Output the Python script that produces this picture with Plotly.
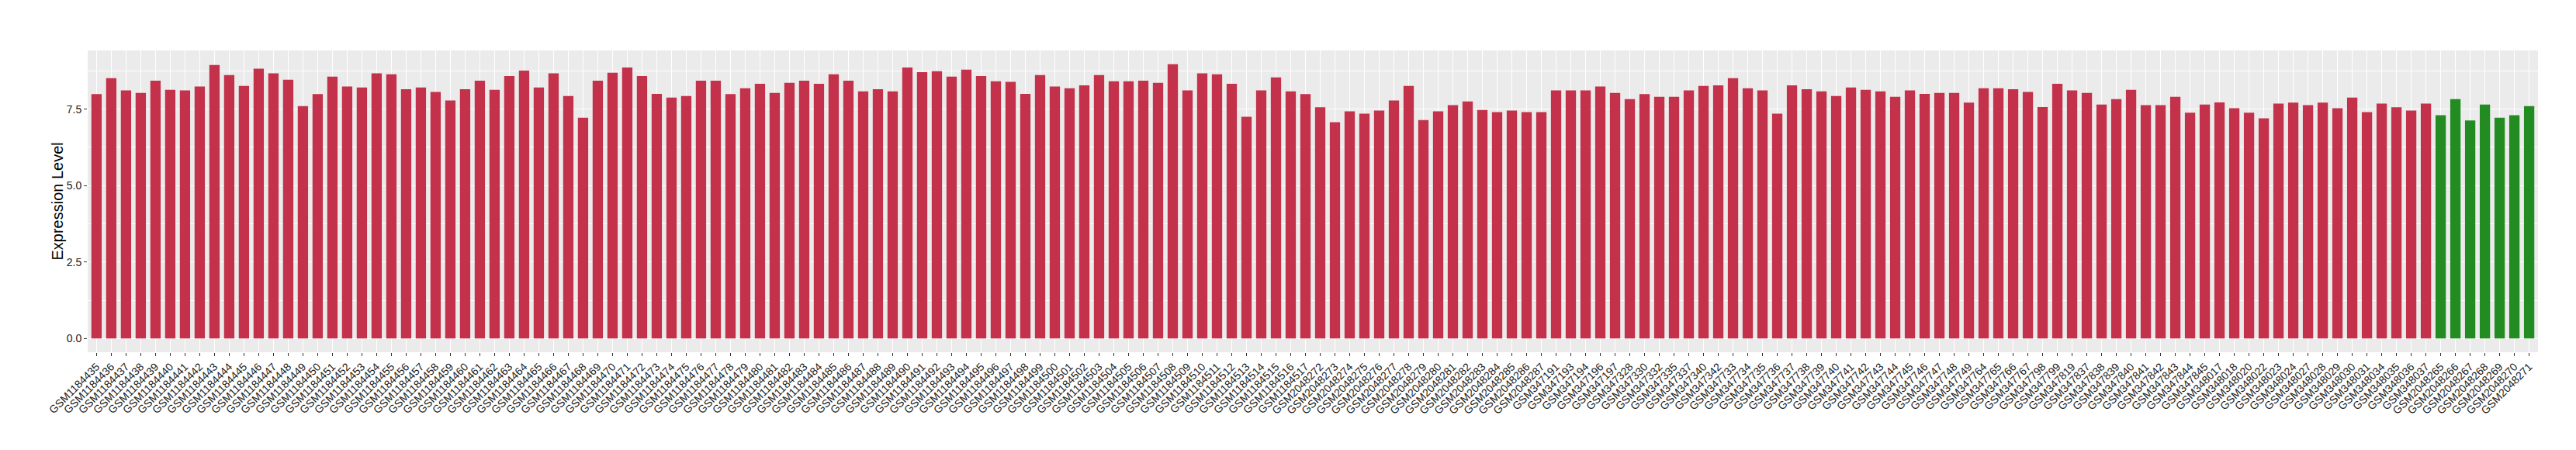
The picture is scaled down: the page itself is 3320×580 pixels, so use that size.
import plotly.graph_objects as go

# ---- data ----
samples_a = [
    "GSM1184435", "GSM1184436", "GSM1184437", "GSM1184438", "GSM1184439", "GSM1184440",
    "GSM1184441", "GSM1184442", "GSM1184443", "GSM1184444", "GSM1184445", "GSM1184446",
    "GSM1184447", "GSM1184448", "GSM1184449", "GSM1184450", "GSM1184451", "GSM1184452",
    "GSM1184453", "GSM1184454", "GSM1184455", "GSM1184456", "GSM1184457", "GSM1184458",
    "GSM1184459", "GSM1184460", "GSM1184461", "GSM1184462", "GSM1184463", "GSM1184464",
    "GSM1184465", "GSM1184466", "GSM1184467", "GSM1184468", "GSM1184469", "GSM1184470",
    "GSM1184471", "GSM1184472", "GSM1184473", "GSM1184474", "GSM1184475", "GSM1184476",
    "GSM1184477", "GSM1184478", "GSM1184479", "GSM1184480", "GSM1184481", "GSM1184482",
    "GSM1184483", "GSM1184484", "GSM1184485", "GSM1184486", "GSM1184487", "GSM1184488",
    "GSM1184489", "GSM1184490", "GSM1184491", "GSM1184492", "GSM1184493", "GSM1184494",
    "GSM1184495", "GSM1184496", "GSM1184497", "GSM1184498", "GSM1184499", "GSM1184500",
    "GSM1184501", "GSM1184502", "GSM1184503", "GSM1184504", "GSM1184505", "GSM1184506",
    "GSM1184507", "GSM1184508", "GSM1184509", "GSM1184510", "GSM1184511", "GSM1184512",
    "GSM1184513", "GSM1184514", "GSM1184515", "GSM1184516", "GSM1184517",
    "GSM2048272", "GSM2048273", "GSM2048274", "GSM2048275", "GSM2048276", "GSM2048277",
    "GSM2048278", "GSM2048279", "GSM2048280", "GSM2048281", "GSM2048282", "GSM2048283",
    "GSM2048284", "GSM2048285", "GSM2048286", "GSM2048287",
    "GSM347191", "GSM347193", "GSM347194", "GSM347196", "GSM347197", "GSM347328",
    "GSM347330", "GSM347332", "GSM347335", "GSM347337", "GSM347340", "GSM347342",
    "GSM347733", "GSM347734", "GSM347735", "GSM347736", "GSM347737", "GSM347738",
    "GSM347739", "GSM347740", "GSM347741", "GSM347742", "GSM347743", "GSM347744",
    "GSM347745", "GSM347746", "GSM347747", "GSM347748", "GSM347749",
    "GSM347764", "GSM347765", "GSM347766", "GSM347767",
    "GSM347798", "GSM347799", "GSM347819",
    "GSM347837", "GSM347838", "GSM347839", "GSM347840", "GSM347841", "GSM347842",
    "GSM347843", "GSM347844", "GSM347845",
    "GSM348017", "GSM348018", "GSM348020", "GSM348022", "GSM348023", "GSM348024",
    "GSM348027", "GSM348028", "GSM348029", "GSM348030", "GSM348031", "GSM348034",
    "GSM348035", "GSM348036", "GSM348037",
]
values_a = [
    7.99, 8.51, 8.11, 8.03, 8.43, 8.13, 8.11, 8.24, 8.94, 8.61, 8.26, 8.82, 8.67, 8.46,
    7.60, 7.99, 8.56, 8.24, 8.21, 8.67, 8.64, 8.15, 8.21, 8.06, 7.78, 8.15,
    8.43, 8.13, 8.58, 8.76, 8.21, 8.67, 7.93, 7.22, 8.43, 8.69, 8.86, 8.58, 8.00, 7.88,
    7.93, 8.43, 8.43, 7.99, 8.18, 8.33, 8.03, 8.36, 8.43, 8.33, 8.64, 8.43, 8.08, 8.15, 8.08,
    8.86, 8.71, 8.74, 8.56, 8.79, 8.58, 8.41, 8.39, 8.00, 8.61, 8.24, 8.18, 8.28, 8.61,
    8.41, 8.41, 8.43, 8.36, 8.97, 8.11, 8.67, 8.64, 8.33, 7.25, 8.11, 8.54, 8.08, 7.99,
    7.56, 7.07, 7.43, 7.35, 7.45, 7.78, 8.26, 7.14, 7.43, 7.63, 7.75, 7.47, 7.40, 7.45,
    7.40, 7.40,
    8.11, 8.11, 8.11, 8.24, 8.03, 7.83, 7.99, 7.90, 7.90, 8.11, 8.26, 8.28,
    8.51, 8.18, 8.11, 7.35, 8.28, 8.15, 8.08, 7.93, 8.21, 8.13, 8.08, 7.90, 8.11, 8.00,
    8.03, 8.03, 7.71,
    8.18, 8.18, 8.15, 8.06,
    7.57, 8.33, 8.11,
    8.03, 7.65, 7.83, 8.13, 7.63, 7.63, 7.90, 7.38, 7.65,
    7.72, 7.53, 7.38, 7.20, 7.68, 7.71, 7.63, 7.71, 7.53, 7.88, 7.40, 7.68, 7.56, 7.45, 7.68,
]

samples_b = ["GSM2048265", "GSM2048266", "GSM2048267", "GSM2048268",
             "GSM2048269", "GSM2048270", "GSM2048271"]
values_b = [7.30, 7.83, 7.13, 7.65, 7.22, 7.30, 7.60]

y_ticks = [0, 2.5, 5, 7.5]
y_ticklabels = ["0.0", "2.5", "5.0", "7.5"]

# ---- figure ----
all_samples = samples_a + samples_b
all_values = values_a + values_b
n = len(all_samples)
ymax = max(all_values)

fig = go.Figure()
fig.add_trace(go.Bar(x=samples_a, y=values_a, marker=dict(color="#C3314A", line=dict(width=0)),
                     showlegend=False))
fig.add_trace(go.Bar(x=samples_b, y=values_b, marker=dict(color="#228B22", line=dict(width=0)),
                     showlegend=False))

font_family = "Liberation Sans, Arial, Helvetica, sans-serif"

fig.update_layout(
    width=3320, height=580,
    margin=dict(l=105, r=57, t=57, b=134, autoexpand=False),
    paper_bgcolor="white",
    plot_bgcolor="#EBEBEB",
    bargap=0.3,
    barmode="group",
    font=dict(family=font_family, size=14, color="#1a1a1a"),
    xaxis=dict(
        type="category",
        categoryorder="array",
        categoryarray=all_samples,
        tickmode="array",
        tickvals=all_samples,
        ticktext=all_samples,
        range=[-0.6, n - 1 + 0.6],
        tickangle=-45,
        tickfont=dict(size=14, color="#1a1a1a"),
        showgrid=True, gridcolor="white", gridwidth=1.2,
        ticks="outside", ticklen=4, tickwidth=1.1, tickcolor="#333333",
        showline=False, zeroline=False, automargin=False,
    ),
    yaxis=dict(
        range=[-0.05 * ymax, 1.05 * ymax],
        tickvals=y_ticks, ticktext=y_ticklabels,
        tickfont=dict(size=14, color="#1a1a1a"),
        showgrid=True, gridcolor="white", gridwidth=1.2,
        minor=dict(dtick=1.25, tick0=0, showgrid=True, gridcolor="white", gridwidth=0.6, ticks=""),
        ticks="outside", ticklen=4, tickwidth=1.1, tickcolor="#333333",
        showline=False, zeroline=False, automargin=False,
    ),
    annotations=[dict(
        text="Expression Level", textangle=-90,
        xref="paper", yref="paper", x=-40 / 3158.0, y=0.5,
        xanchor="center", yanchor="middle", showarrow=False,
        font=dict(family=font_family, size=20, color="#000000"),
    )],
)

fig.write_html("out.html")
